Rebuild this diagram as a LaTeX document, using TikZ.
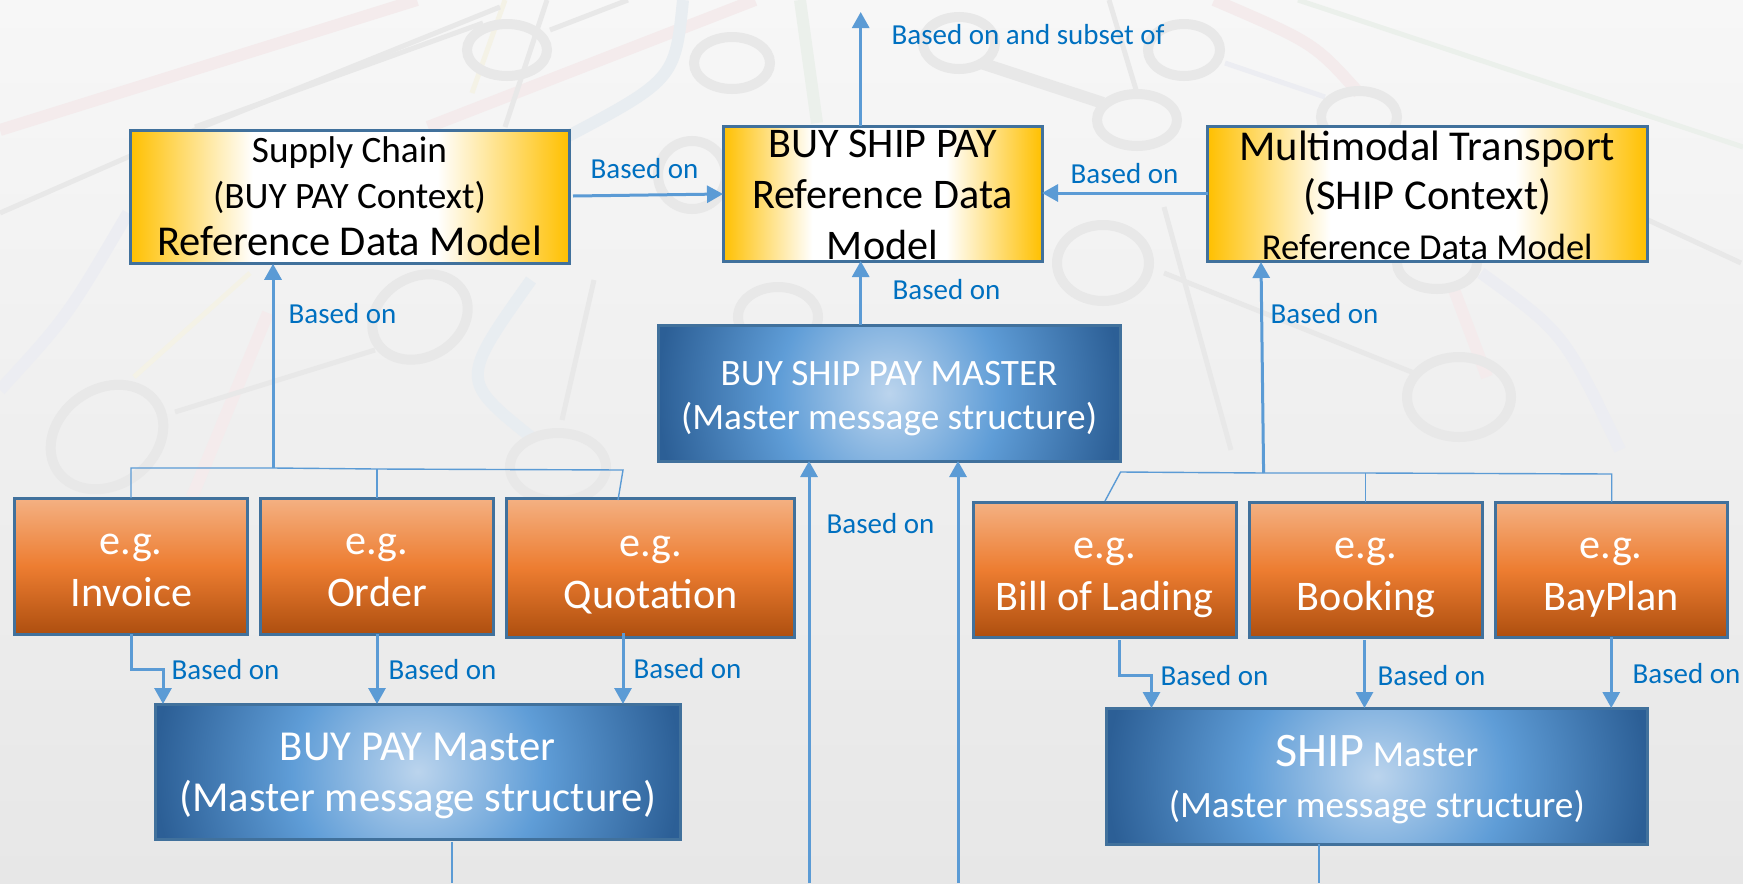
\documentclass[tikz,border=0pt]{standalone}
\usepackage{fontspec}
\setmainfont{Carlito}
\usetikzlibrary{positioning, arrows.meta}

\definecolor{bgtop}{HTML}{F7F7F7}
\definecolor{bgbot}{HTML}{E7E7E7}
\definecolor{ringcol}{HTML}{E8E8E8}
\definecolor{pinkcol}{HTML}{F4EBEC}
\definecolor{lilaccol}{HTML}{ECEDF2}
\definecolor{skycol}{HTML}{E8EDF1}
\definecolor{greencol}{HTML}{EBF0EB}
\definecolor{yellowcol}{HTML}{F4F2E6}
\definecolor{edgecol}{HTML}{41719C}
\definecolor{goldcol}{HTML}{FFC000}
\definecolor{bluein}{HTML}{BBD4ED}
\definecolor{bluemid}{HTML}{5F9DD7}
\definecolor{blueout}{HTML}{2C5F96}
\definecolor{orangetop}{HTML}{F4B183}
\definecolor{orangemid}{HTML}{ED7D31}
\definecolor{orangebot}{HTML}{AE4F0F}
\definecolor{arrowcol}{HTML}{5B9BD5}
\definecolor{labelcol}{HTML}{0070C0}

\pgfdeclarehorizontalshading{goldshade}{100bp}{color(0bp)=(goldcol); color(25bp)=(goldcol); color(39bp)=(white); color(60bp)=(white); color(75bp)=(goldcol); color(100bp)=(goldcol)}
\pgfdeclareradialshading{blueshade}{\pgfpointorigin}{color(0bp)=(bluein); color(12bp)=(bluemid); color(25bp)=(blueout); color(50bp)=(blueout)}

\newcommand{\boxtext}[2]{\raisebox{#1}[0pt][0pt]{\begin{tabular}{@{}c@{}}#2\end{tabular}}}
\newcommand{\fsize}[2]{\fontsize{#1}{#2}\selectfont}

\tikzset{
    anybox/.style={draw=edgecol, line width=0.03cm, inner sep=0pt, outer sep=0pt},
    goldbox/.style={anybox, shade, shading=goldshade, text=black},
    orangebox/.style={anybox, top color=orangetop, bottom color=orangebot, middle color=orangemid, text=white, font=\fsize{12}{14.7}},
    bluebox/.style={anybox, text=white, path picture={
        \shade[shading=blueshade] ([yshift=-1.8cm]path picture bounding box.south west) rectangle ([yshift=1.8cm]path picture bounding box.north east);
    }},
    basedarrow/.style={draw=arrowcol, line width=0.03cm, -{Triangle[width=0.17cm, length=0.16cm]}},
    basedline/.style={draw=arrowcol, line width=0.025cm},
    thinline/.style={draw=arrowcol, line width=0.014cm},
    basedlabel/.style={text=labelcol, font=\fsize{8.25}{10}, inner sep=0pt, anchor=west},
    metroring/.style={draw=ringcol, line width=0.1cm},
    metroline/.style={draw=ringcol, line width=0.05cm},
    metrowide/.style={line width=0.12cm},
}

\begin{document}
\begin{tikzpicture}
    \useasboundingbox (0,0) rectangle (17.43,-8.83);
    \shade[top color=bgtop, bottom color=bgbot] (0,0) rectangle (17.43,-8.83); % sheet

    % metro map behind everything
    \draw[metrowide, pinkcol] (0,-1.30) -- (4.17,0);
    \draw[metrowide, pinkcol] (4.28,-1.27) -- (7.55,0);
    \draw[metrowide, pinkcol] (2.68,-3.13) -- (1.92,-4.97);
    \draw[metrowide, skycol] (6.83,0) .. controls (6.75,-0.80) .. (5.55,-1.43);
    \draw[metrowide, skycol] (5.31,-2.80) .. controls (4.60,-3.80) .. (5.31,-4.37);
    \draw[metrowide, lilaccol] (1.28,-2.13) .. controls (0.67,-3.17) .. (0,-3.90);
    \draw[metrowide, lilaccol] (14.81,-2.73) .. controls (15.64,-3.33) .. (16.20,-4.50);
    \draw[metrowide, greencol] (8.00,0) -- (8.17,-1.23);
    \draw[metrowide, pinkcol] (12.14,0) .. controls (13.14,-0.43) .. (13.59,-0.93);
    \draw[metrowide, pinkcol] (14.53,-2.87) -- (14.87,-3.77);
    \draw[metroline, greencol] (12.98,0) -- (17.43,-1.47);
    \draw[metroline, lilaccol] (12.25,-0.63) -- (13.25,-0.97);
    \draw[metroline, yellowcol] (5.05,0) -- (4.72,-0.93);
    \draw[metroline, yellowcol] (2.50,-2.73) -- (1.34,-3.77);
    \draw[metroline] (0,-2.13) -- (1.28,-1.57) -- (5.00,-0.07);
    \draw[metroline] (1.95,-1.27) -- (4.83,-0.23);
    \draw[metroline] (5.50,-0.30) -- (6.28,0);
    \draw[metroline] (5.47,0) -- (5.05,-1.27);
    \draw[metroline] (1.75,-4.12) -- (3.75,-3.50);
    \draw[metroline] (5.94,-2.80) -- (5.62,-4.20);
    \draw[metroline] (11.09,0) -- (11.37,-0.93);
    \draw[metrowide, ringcol] (9.81,-0.63) -- (11.03,-1.03);
    \draw[metroline] (11.64,-2.73) -- (14.14,-3.73);
    \draw[metroline] (11.64,-2.07) -- (12.31,-4.50);
    \draw[metroline] (16.48,-2.20) -- (17.41,-2.63);
    \foreach \ringx/\ringy/\rx/\ry/\tilt in {5.07/-0.50/0.40/0.26/0, 7.32/-0.63/0.38/0.26/0, 6.92/-1.75/0.34/0.34/0, 4.20/-3.17/0.50/0.40/30, 1.07/-4.37/0.60/0.48/35, 5.58/-4.67/0.48/0.34/0, 9.59/-0.43/0.36/0.26/0, 11.84/-0.50/0.36/0.26/0, 11.37/-1.20/0.40/0.26/0, 13.59/-1.17/0.38/0.26/0, 11.03/-2.63/0.46/0.38/0, 14.59/-3.97/0.52/0.40/0, 14.37/-2.63/0.40/0.26/0, 7.78/-3.17/0.40/0.30/0}{
        \draw[metroring, rotate around={\tilt:(\ringx,\ringy)}] (\ringx,\ringy) ellipse [x radius=\rx, y radius=\ry]; % station
    }

    % top row
    \node[goldbox, minimum width=3.19cm, minimum height=1.35cm] (bsp) at (8.825,-1.935) {\fsize{12}{14.5}\boxtext{-0.15cm}{BUY SHIP PAY\\Reference Data\\Model}};
    \node[goldbox, minimum width=4.39cm, minimum height=1.335cm] (chain) at (3.495,-1.97) {\fsize{12.1}{13.2}\boxtext{-0.13cm}{{\fsize{10.6}{13.2}Supply Chain}\\{\fsize{10.6}{13.2}(BUY PAY Context)}\\Reference Data Model}};
    \node[goldbox, minimum width=4.395cm, minimum height=1.35cm] (multi) at (14.2725,-1.935) {\fsize{12.1}{14}\boxtext{-0.17cm}{Multimodal Transport\\(SHIP Context)\\{\fsize{10.4}{14}Reference Data Model}}};

    \node[bluebox, minimum width=4.62cm, minimum height=1.36cm, font=\fsize{10.6}{12.6}] (bsm) at (8.89,-3.93) {\boxtext{-0.15cm}{BUY SHIP PAY MASTER\\(Master message structure)}};

    % left documents
    \node[orangebox, minimum width=2.33cm, minimum height=1.36cm] (invoice) at (1.3125,-5.66) {\boxtext{-0.15cm}{e.g.\\Invoice}};
    \node[orangebox, minimum width=2.325cm, minimum height=1.36cm, right=0.13cm of invoice] (order) {\boxtext{-0.15cm}{e.g.\\Order}};
    \node[orangebox, minimum width=2.88cm, minimum height=1.39cm, below right=0cm and 0.135cm of order.north east] (quotation) {\boxtext{-0.15cm}{e.g.\\Quotation}};
    \node[bluebox, minimum width=5.25cm, minimum height=1.35cm, font=\fsize{12.15}{14.5}] (bpm) at (4.176,-7.715) {\boxtext{-0.15cm}{BUY PAY Master\\(Master message structure)}};

    % right documents
    \node[orangebox, minimum width=2.635cm, minimum height=1.35cm] (lading) at (11.0475,-5.695) {\boxtext{-0.155cm}{e.g.\\Bill of Lading}};
    \node[orangebox, minimum width=2.33cm, minimum height=1.35cm, right=0.13cm of lading] (booking) {\boxtext{-0.155cm}{e.g.\\Booking}};
    \node[orangebox, minimum width=2.325cm, minimum height=1.35cm, right=0.125cm of booking] (bayplan) {\boxtext{-0.155cm}{e.g.\\BayPlan}};
    \node[bluebox, minimum width=5.405cm, minimum height=1.36cm, font=\fsize{10.6}{14.5}] (sm) at (13.7675,-7.76) {\boxtext{-0.155cm}{{\fsize{13.7}{14.5}SHIP} {\fsize{10.4}{14.5}Master}\\(Master message structure)}};

    % junctions and free ends
    \coordinate (topend) at (8.607,-0.12);
    \coordinate (chainjoin) at (2.73,-4.68);
    \coordinate (chainfirst) at (1.31,-4.68);
    \coordinate (chainmid) at (3.77,-4.69);
    \coordinate (chainlast) at (6.23,-4.70);
    \coordinate (multijoin) at (12.636,-4.73);
    \coordinate (multifirst) at (11.206,-4.72);
    \coordinate (multimid) at (13.655,-4.73);
    \coordinate (multilast) at (16.117,-4.74);
    \coordinate (bpmfoot) at (4.52,-8.83);
    \coordinate (smfoot) at (13.19,-8.83);
    \coordinate (longleft) at (8.09,-8.83);
    \coordinate (longright) at (9.58,-8.83);

    % upper arrows
    \draw[basedarrow] (topend |- bsp.north) -- (topend);
    \draw[basedarrow] (5.73,-1.96) -- (bsp.west |- 0,-1.94);
    \draw[basedarrow] (multi.west |- 0,-1.93) -- (bsp.east |- 0,-1.93);
    \draw[basedarrow] (bsm.north -| topend) -- (bsp.south -| topend);
    \draw[basedarrow] (chainjoin) -- (chain.south -| chainjoin);
    \draw[basedarrow] (multijoin) -- (12.61,-2.62);

    % brackets over the documents
    \draw[thinline] (invoice.north -| chainfirst) -- (chainfirst) -- (chainjoin) -- (chainmid) -- (chainlast) -- (6.18,-5.00);
    \draw[thinline] (order.north -| chainmid) -- (chainmid);
    \draw[thinline] (11.05,-5.01) -- (multifirst) -- (multijoin) -- (multimid) -- (multilast) -- (multilast |- bayplan.north);
    \draw[thinline] (booking.north -| multimid) -- (multimid);

    % documents down to masters
    \draw[basedarrow] (invoice.south -| chainfirst) -- (1.31,-6.69) -- (1.63,-6.69) -- (bpm.north -| 1.63,0);
    \draw[basedarrow] (order.south) -- (bpm.north -| order.south);
    \draw[basedarrow] (6.23,-6.33) -- (bpm.north -| 6.23,0);
    \draw[basedarrow] (11.19,-6.40) -- (11.19,-6.75) -- (11.515,-6.75) -- (sm.north -| 11.515,0);
    \draw[basedarrow] (13.645,-6.40) -- (sm.north -| 13.645,0);
    \draw[basedarrow] (bayplan.south) -- (sm.north -| bayplan.south);

    % lines running off the sheet
    \draw[basedline] (bpmfoot |- 0,-8.42) -- (bpmfoot);
    \draw[basedline] (sm.south -| smfoot) -- (smfoot);
    \draw[basedarrow] (longleft) -- (bsm.south -| longleft);
    \draw[basedarrow] (longright) -- (bsm.south -| longright);

    % labels
    \node[basedlabel] (lbltop) at (8.91,-0.35) {Based on and subset of};
    \node[basedlabel] (lblchain) at (5.90,-1.69) {Based on};
    \node[basedlabel] (lblmulti) at (10.70,-1.74) {Based on};
    \node[basedlabel] (lblbsm) at (8.92,-2.90) {Based on};
    \node[basedlabel] (lblleft) at (2.88,-3.14) {Based on};
    \node[basedlabel] (lblright) at (12.70,-3.14) {Based on};
    \node[basedlabel] (lbllong) at (8.26,-5.24) {Based on};
    \node[basedlabel] (lblinv) at (1.71,-6.70) {Based on};
    \node[basedlabel] (lblord) at (3.88,-6.70) {Based on};
    \node[basedlabel] (lblquo) at (6.33,-6.69) {Based on};
    \node[basedlabel] (lblbill) at (11.60,-6.76) {Based on};
    \node[basedlabel] (lblbook) at (13.77,-6.76) {Based on};
    \node[basedlabel] (lblbay) at (16.32,-6.74) {Based on};
\end{tikzpicture}
\end{document}
